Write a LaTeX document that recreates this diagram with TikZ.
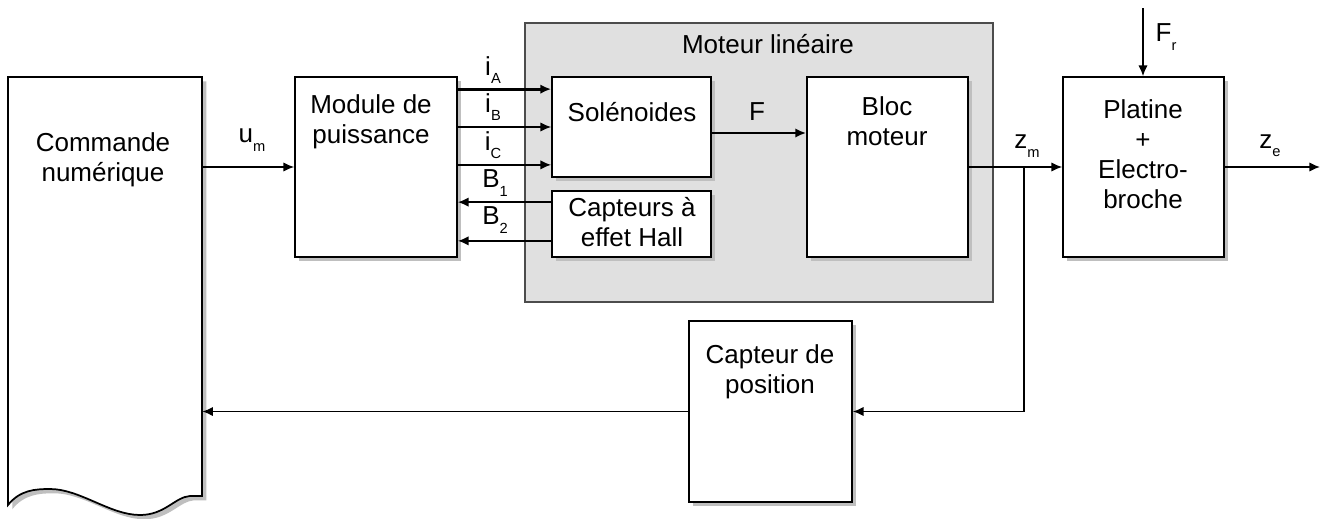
\documentclass[tikz,border=0pt]{standalone}
\usepackage{fontspec}
\setmainfont{Liberation Sans}
\usetikzlibrary{arrows.meta,shadows,fit}
\newcommand{\sbs}[1]{\raisebox{-0.32em}{\fontsize{11}{11}\selectfont #1}}
\begin{document}
\begin{tikzpicture}[x=0.75pt,y=-0.75pt,
  box/.style={draw, fill=white, line width=1.3pt, inner sep=0pt,
    drop shadow={shadow xshift=3.2pt, shadow yshift=-3.2pt, fill=black!25, opacity=1}},
  txt/.style={align=center, inner sep=0pt, font=\fontsize{19.5}{22.5}\selectfont},
  arr/.style={line width=1.1pt, -{Latex[length=8pt,width=7pt]}},
  tharr/.style={arr, line width=2.2pt}]
\useasboundingbox (0,0) rectangle (1327,518);
% linear motor group
\node[fit={(525,23) (993,302)}, inner sep=0pt, draw=black!70, fill=black!12, line width=0.9pt] (ml) {};
\node[txt] (mlt) at (768,44) {Moteur linéaire};
% Commande numerique (document shape)
\path[box] (8,77) -- (202,77) -- (202,496) -- (190,496)
  .. controls (175,497) and (165,515) .. (140,515)
  .. controls (110,515) and (80,489) .. (50,489)
  .. controls (35,489) and (20,490) .. (8,505) -- cycle;
\node[fit={(8,77) (202,496)}, inner sep=0pt] (cn) {};
\node[txt] (cnt) at (103,160) {Commande\\numérique};
% boxes
\node[box, fit={(295,77) (457,257)}] (mod) {};
\node[txt] (modt) at (371,122) {Module de\\puissance};
\node[box, fit={(552,77) (711,177)}] (sol) {};
\node[txt] (solt) at (632,112) {Solénoides};
\node[box, fit={(552,191) (711,257)}] (hall) {};
\node[txt] (hallt) at (632,222) {Capteurs à\\effet Hall};
\node[box, fit={(807,77) (968,257)}] (bloc) {};
\node[txt] (bloct) at (887,121) {Bloc\\moteur};
\node[box, fit={(1063,77) (1224,257)}] (plat) {};
\node[txt] (platt) at (1143,154) {Platine\\+\\Electro-\\broche};
\node[box, fit={(689,321) (852,502)}] (cp) {};
\node[txt] (cpt) at (770,372) {Capteur de\\position};
% coordinates
\coordinate (ia) at ([yshift=-9.75pt]sol.north west);
\coordinate (ic) at ([yshift=9.75pt]sol.south west);
\coordinate (b1) at ([yshift=-9pt]hall.north west);
\coordinate (b2) at ([yshift=12.75pt]hall.south west);
\coordinate (fs) at ([yshift=-4.5pt]sol.east);
\coordinate (j) at (1024,167);
\coordinate (frs) at (1143,8);
\coordinate (ze) at (1320,167);
% connectors
\draw[arr] (cn.east |- mod.west) -- (mod.west);
\draw[tharr] (ia -| mod.east) -- (ia);
\draw[arr] (sol.west -| mod.east) -- (sol.west);
\draw[arr] (ic -| mod.east) -- (ic);
\draw[arr] (b1) -- (b1 -| mod.east);
\draw[arr] (b2) -- (b2 -| mod.east);
\draw[tharr] (fs) -- (fs -| bloc.west);
\draw[arr] (bloc.east) -- (plat.west);
\draw[arr] (j) |- (cp.east);
\draw[arr] (frs) -- (frs |- plat.north);
\draw[arr] (plat.east) -- (ze);
\draw[arr] (cp.west) -- (cp.west -| cn.east);
% labels
\node[txt] (lum) at (252,140) {u\sbs{m}};
\node[txt] (lia) at (493,70) {i\sbs{A}};
\node[txt] (lib) at (493,107) {i\sbs{B}};
\node[txt] (lic) at (493,145) {i\sbs{C}};
\node[txt] (lb1) at (495,183) {B\sbs{1}};
\node[txt] (lb2) at (495,220) {B\sbs{2}};
\node[txt] (lf) at (757,112) {F};
\node[txt] (lzm) at (1027,146) {z\sbs{m}};
\node[txt] (lfr) at (1166,37) {F\sbs{r}};
\node[txt] (lze) at (1270,146) {z\sbs{e}};
\end{tikzpicture}
\end{document}
